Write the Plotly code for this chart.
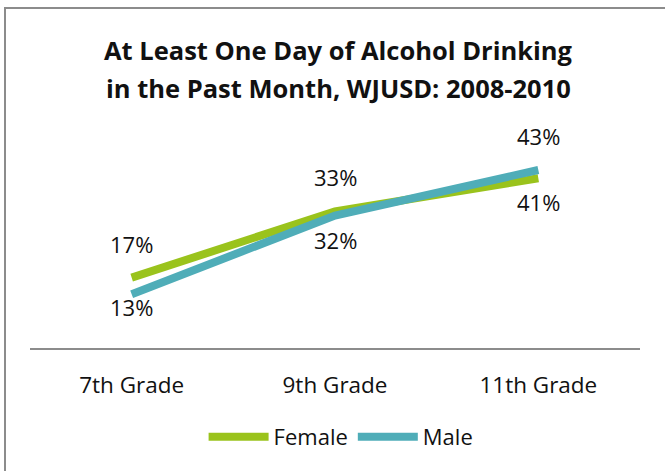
import plotly.graph_objects as go

categories = ["7th Grade", "9th Grade", "11th Grade"]
female = [17, 33, 41]
male = [13, 32, 43]
title_lines = ["At Least One Day of Alcohol Drinking", "in the Past Month, WJUSD: 2008-2010"]

# label offsets (pixels) above (+) / below (-) each point
female_label_shift = [34, 34, -24]
male_label_shift = [-13, -24, 34]

GREEN = "#9AC31C"
TEAL = "#4FADB8"
FONT = "Open Sans"
TXT = "#111111"

fig = go.Figure()
fig.add_trace(go.Scatter(x=categories, y=female, name="Female", mode="lines",
                         line=dict(color=GREEN, width=8)))
fig.add_trace(go.Scatter(x=categories, y=male, name="Male", mode="lines",
                         line=dict(color=TEAL, width=8)))

annotations = []
for vals, shifts in ((female, female_label_shift), (male, male_label_shift)):
    for c, v, s in zip(categories, vals, shifts):
        annotations.append(dict(x=c, y=v, xref="x", yref="y", text=f"{v}%",
                                showarrow=False, yshift=s, yanchor="middle",
                                font=dict(family=FONT, size=22, color=TXT)))

PLOT_TOP, PLOT_BOTTOM, H = 141, 348, 471
ph = PLOT_BOTTOM - PLOT_TOP
for line_text, yc in zip(title_lines, (50, 88)):
    annotations.append(dict(text=f"<b>{line_text}</b>", xref="paper", yref="paper",
                            x=(338 - 30) / 610, y=1 + (PLOT_TOP - yc) / ph,
                            xanchor="center", yanchor="middle", showarrow=False,
                            font=dict(family=FONT, size=25.5, color=TXT)))

fig.update_layout(
    width=665, height=471,
    margin=dict(l=30, r=25, t=PLOT_TOP, b=H - PLOT_BOTTOM),
    paper_bgcolor="white", plot_bgcolor="white",
    font=dict(family=FONT, color=TXT),
    xaxis=dict(showgrid=False, showline=True, linecolor="#8C8C8C", linewidth=2,
               ticks="", ticklabelstandoff=16,
               tickfont=dict(family=FONT, size=22.5, color=TXT),
               range=[-0.5, 2.5], zeroline=False),
    yaxis=dict(visible=False, range=[0, 50]),
    showlegend=True,
    legend=dict(orientation="h", x=0.51, xanchor="center", y=-(437 - PLOT_BOTTOM) / ph,
                yanchor="middle",
                font=dict(family=FONT, size=22, color=TXT),
                itemwidth=60, tracegroupgap=0),
    annotations=annotations,
    shapes=[dict(type="rect", xref="paper", yref="paper",
                 x0=(5 - 30) / 610, x1=(700 - 30) / 610,
                 y0=1 + (PLOT_TOP - 520) / ph, y1=1 + (PLOT_TOP - 8) / ph,
                 line=dict(color="#8C8C8C", width=2), fillcolor="rgba(0,0,0,0)")],
)

fig.write_html("out.html", config={"displayModeBar": False},
               post_script="document.body.style.margin='0';")
